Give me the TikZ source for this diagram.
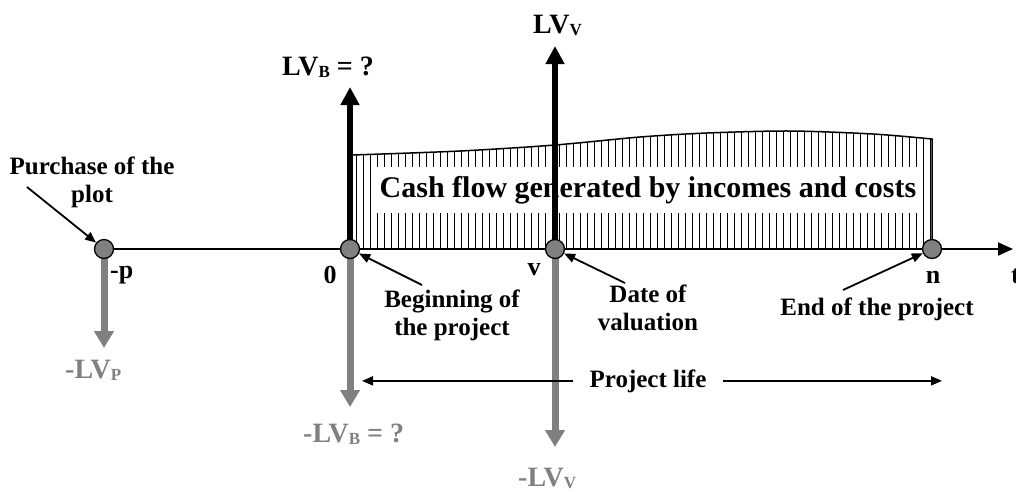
\documentclass[tikz,border=0pt]{standalone}
\usepackage{fontspec}
\setmainfont{Liberation Serif}
\usetikzlibrary{arrows.meta,positioning}
\definecolor{lossgray}{RGB}{128,128,128}
\newcommand{\sbs}[1]{\raisebox{-2.5pt}{\fontsize{17}{17}\selectfont #1}}

\begin{document}
\begin{tikzpicture}[x=1pt,y=-1pt,
  dot/.style={draw,circle,fill=lossgray,line width=1.3pt,minimum size=19pt,inner sep=0pt},
  gain/.style={line width=6pt,-{Triangle[length=18pt,width=18pt]}},
  loss/.style={lossgray,line width=7pt,-{Triangle[length=17pt,width=19pt]}},
  pointer/.style={line width=1.8pt,-{Triangle[length=11pt,width=9pt]}},
  lbl/.style={font=\fontsize{25}{28}\selectfont\bfseries,align=center,inner sep=0pt},
  tick/.style={font=\fontsize{26}{26}\selectfont\bfseries,inner sep=0pt},
  val/.style={font=\fontsize{28}{28}\selectfont\bfseries,inner sep=0pt}]
\useasboundingbox (0,0) rectangle (1016,491);

\coordinate (p) at (104,249);
\coordinate (o) at (350,249);
\coordinate (v) at (555,249);
\coordinate (n) at (932,249);
\coordinate (tend) at (1013,249);

% hatched cash flow
\begin{scope}
  \clip (352,249) -- plot[smooth] coordinates {(352,155) (460,151) (555,145) (640,137) (707,133) (790,131) (873,134) (932,139)} -- (932,249) -- cycle;
  \foreach \x in {356,363,...,930}
    \draw[line width=1pt] (\x,120) -- (\x,249);
\end{scope}
\draw[line width=1.5pt] plot[smooth] coordinates {(352,155) (460,151) (555,145) (640,137) (707,133) (790,131) (873,134) (932,139)} -- (932,249);

\draw[line width=2pt,-{Triangle[length=15pt,width=13pt]}] (p) -- (tend);

\node[fill=white,inner sep=0pt,minimum width=548pt,minimum height=46pt,
      font=\fontsize{30}{30}\selectfont\bfseries] (cash) at (648,190)
      {Cash flow generated by incomes and costs};

\coordinate (pbot) at (104,348);
\coordinate (obot) at (350,407);
\coordinate (vbot) at (555,447);
\coordinate (otop) at (350,87);
\coordinate (vtop) at (555,46);
\draw[loss] (p) -- (pbot);
\draw[loss] (o) -- (obot);
\draw[loss] (v) -- (vbot);
\draw[gain] (o) -- (otop);
\draw[gain] (v) -- (vtop);

\node[dot] (pdot) at (p) {};
\node[dot] (odot) at (o) {};
\node[dot] (vdot) at (v) {};
\node[dot] (ndot) at (n) {};

\node[tick,anchor=base west] (pl) at (110,278) {-p};
\node[tick,anchor=base] (ol) at (330,283) {0};
\node[tick,anchor=base] (vl) at (534,275) {v};
\node[tick,anchor=base] (nl) at (933,283) {n};
\node[tick,anchor=base west] (tl) at (1011,283) {t};

\node[val,anchor=base west] (lvb) at (282,75) {LV\sbs{B} = ?};
\node[val,anchor=base west] (lvv) at (533,33) {LV\sbs{V}};
\node[val,anchor=base west,lossgray] (mlvp) at (65,378) {-LV\sbs{P}};
\node[val,anchor=base west,lossgray] (mlvb) at (303,442) {-LV\sbs{B} = ?};
\node[val,anchor=base west,lossgray] (mlvv) at (518,486) {-LV\sbs{V}};

\node[lbl,anchor=base] (purch) at (92,202) {Purchase of the\\plot};
\node[lbl,anchor=base] (begin) at (452,335) {Beginning of\\the project};
\node[lbl,anchor=base] (date) at (648,330) {Date of\\valuation};
\node[lbl,anchor=base] (end) at (877,315) {End of the project};

\coordinate (purchtail) at (27,187);
\coordinate (begintail) at (422,285);
\coordinate (datetail) at (625,283);
\coordinate (endtail) at (843,290);
\draw[pointer] (purchtail) -- (pdot);
\draw[pointer] (begintail) -- (odot);
\draw[pointer] (datetail) -- (vdot);
\draw[pointer] (endtail) -- (ndot);

\node[lbl,anchor=base,inner xsep=16pt] (life) at (648,387) {Project life};
\coordinate (lifeL) at (362,380);
\coordinate (lifeR) at (942,380);
\draw[pointer] (life.west) -- (life.west -| lifeL);
\draw[pointer] (life.east) -- (life.east -| lifeR);
\end{tikzpicture}
\end{document}
